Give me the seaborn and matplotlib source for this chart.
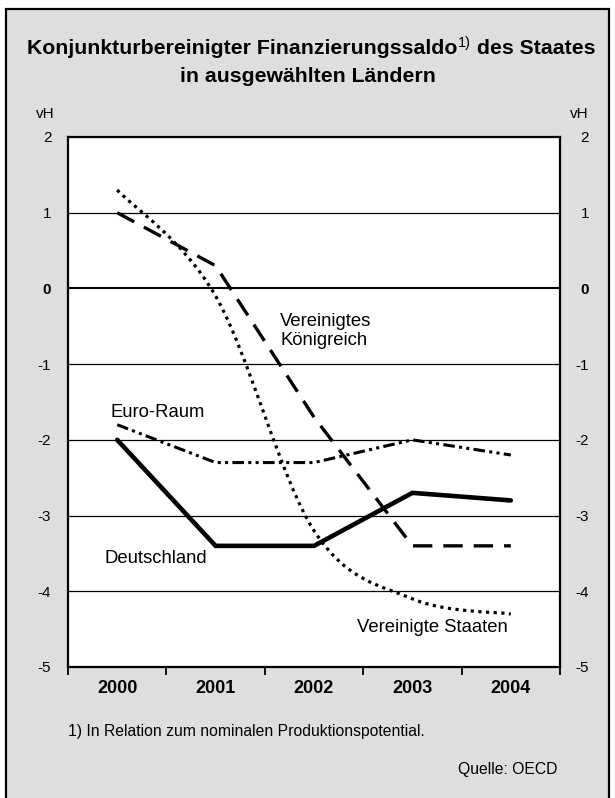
import numpy as np
import pandas as pd
import matplotlib
matplotlib.use("Agg")
import matplotlib.pyplot as plt
import matplotlib.transforms as mtransforms
import seaborn as sns
from matplotlib.path import Path
from matplotlib.patches import PathPatch, Rectangle
from matplotlib.ticker import FixedLocator

# ---------------- data ----------------
years = ["2000", "2001", "2002", "2003", "2004"]
deutschland = [-2.0, -3.4, -3.4, -2.7, -2.8]
euro_raum = [-1.8, -2.3, -2.3, -2.0, -2.2]
vereinigtes_koenigreich = [1.0, 0.3, -1.7, -3.4, -3.4]
vereinigte_staaten = [1.3, -0.1, -3.2, -4.1, -4.3]
y_ticks = [-5, -4, -3, -2, -1, 0, 1, 2]

sns.set_theme(style="white")
plt.rcParams['font.family'] = ['Liberation Sans', 'DejaVu Sans']
plt.rcParams['text.color'] = 'black'
plt.rcParams['xtick.color'] = 'black'
plt.rcParams['ytick.color'] = 'black'
plt.rcParams['axes.labelcolor'] = 'black'

W, H = 615, 798
fig = plt.figure(figsize=(W / 100, H / 100), dpi=100)
fig.patch.set_facecolor('white')

# grey panel with black frame
fig.patches.append(Rectangle((6 / W, -0.01), 603 / W, (H - 9) / H + 0.01,
                             transform=fig.transFigure, facecolor='#dedede',
                             edgecolor='black', linewidth=1.6, zorder=-5))

ax = fig.add_axes([68 / W, 1 - 667 / H, 492 / W, 530 / H])
ax.set_facecolor('white')
ax.set_zorder(2)

x = np.arange(len(years))

# grid lines
for v in y_ticks[1:-1]:
    ax.axhline(v, color='black', lw=1.5 if v == 0 else 0.9, zorder=1)

# series (seaborn)
sns.lineplot(x=x, y=deutschland, ax=ax, color='black', lw=3.3,
             solid_joinstyle='miter', zorder=4)
sns.lineplot(x=x, y=euro_raum, ax=ax, color='black', lw=2.2,
             linestyle=(0, (3.8, 1.4, 1.0, 1.4, 1.0, 1.4)), zorder=4)
sns.lineplot(x=x, y=vereinigtes_koenigreich, ax=ax, color='black', lw=2.4,
             linestyle=(0, (5.8, 3.3)), zorder=4)

# US series is drawn smoothed (bezier through the data points)
pts = np.column_stack([x, vereinigte_staaten]).astype(float)
n = len(pts)
verts = [tuple(pts[0])]
codes = [Path.MOVETO]
for i in range(n - 1):
    p0 = pts[max(i - 1, 0)]
    p1 = pts[i]
    p2 = pts[i + 1]
    p3 = pts[min(i + 2, n - 1)]
    c1 = p1 + (p2 - p0) / 6.0
    c2 = p2 - (p3 - p1) / 6.0
    verts += [tuple(c1), tuple(c2), tuple(p2)]
    codes += [Path.CURVE4] * 3
ax.add_patch(PathPatch(Path(verts, codes), fill=False, edgecolor='black',
                       lw=2.3, linestyle=(0, (1.0, 1.4)), capstyle='butt',
                       zorder=4))

# axes limits & ticks
ax.set_xlim(-0.5, len(years) - 0.5)
ax.set_ylim(-5, 2)
ax.set_xticks(x)
ax.set_xticklabels(years, fontsize=13, fontweight='bold')
ax.xaxis.set_minor_locator(FixedLocator(np.arange(-0.5, len(years), 1.0)))
ax.tick_params(axis='x', which='major', length=0, pad=9.5, colors='black')
ax.tick_params(axis='x', which='minor', bottom=True, length=5.5, width=1.3,
               direction='out', color='black')

ax.set_yticks(y_ticks)
ax.set_yticklabels([str(v) for v in y_ticks])
ax.yaxis.set_minor_locator(FixedLocator([0]))
ax.tick_params(axis='y', which='major', length=0, left=True, right=True,
               labelleft=True, labelright=True, labelsize=11, colors='black',
               pad=12)
ax.tick_params(axis='y', which='minor', left=True, right=True, length=6,
               width=1.6, direction='out', color='black')
for t in ax.yaxis.get_major_ticks():
    if t.label1.get_text() == '0':
        t.label1.set_fontweight('bold')
        t.label2.set_fontweight('bold')
    t.label2.set_horizontalalignment('right')
    t.label2.set_transform(mtransforms.blended_transform_factory(
        fig.transFigure, ax.transData))
    t.label2.set_x(589 / W)

for s in ax.spines.values():
    s.set_color('black')
    s.set_linewidth(1.6)
    s.set_visible(True)
ax.grid(False)
ax.set_xlabel('')
ax.set_ylabel('')

# series labels
lab_kw = dict(fontsize=13.3, color='black', zorder=6)
ax.text(1.658, -0.50, "Vereinigtes", ha='left', va='baseline', **lab_kw)
ax.text(1.658, -0.75, "Königreich", ha='left', va='baseline', **lab_kw)
ax.text(-0.073, -1.70, "Euro-Raum", ha='left', va='baseline', **lab_kw)
ax.text(-0.124, -3.62, "Deutschland", ha='left', va='baseline', **lab_kw)
ax.text(3.97, -4.54, "Vereinigte Staaten", ha='right', va='baseline', **lab_kw)

# unit labels
fig.text(55 / W, 1 - 118 / H, "vH", ha='right', va='baseline', fontsize=11)
fig.text(589 / W, 1 - 118 / H, "vH", ha='right', va='baseline', fontsize=11)

# title with superscript
fig.canvas.draw()
r = fig.canvas.get_renderer()
tkw = dict(fontsize=15.3, fontweight='bold', va='baseline')
y1 = 1 - 54 / H
a = fig.text(0, y1, "Konjunkturbereinigter Finanzierungssaldo", **tkw)
b = fig.text(0, y1 + 7 / H, "1)", fontsize=10.5, va='baseline')
c = fig.text(0, y1, " des Staates", **tkw)
wa = a.get_window_extent(r).width
wb = b.get_window_extent(r).width
wc = c.get_window_extent(r).width
start = (W / 2) + 3 - (wa + wb + wc) / 2
a.set_x(start / W)
b.set_x((start + wa + 1) / W)
c.set_x((start + wa + wb + 1) / W)
fig.text(0.5, 1 - 82 / H, "in ausgewählten Ländern", ha='center', **tkw)

# footnote and source
fig.text(68 / W, 1 - 736 / H, "1) In Relation zum nominalen Produktionspotential.",
         fontsize=11.3, ha='left', va='baseline')
fig.text(557 / W, 1 - 774 / H, "Quelle: OECD", fontsize=11.3, ha='right',
         va='baseline')

fig.savefig("out.png", dpi=100, facecolor=fig.get_facecolor())
